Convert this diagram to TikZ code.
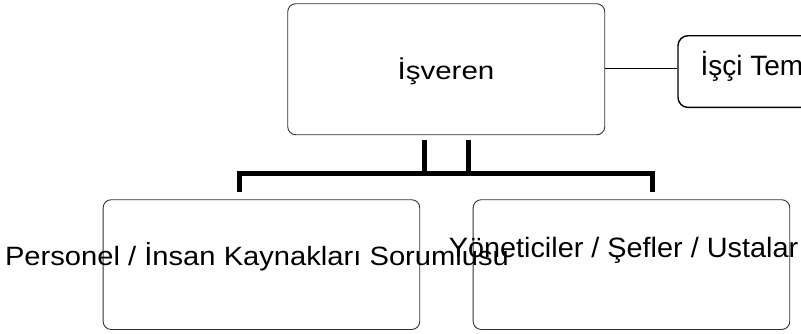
\documentclass[tikz,border=0pt]{standalone}
\usepackage{fontspec}
\setmainfont{Liberation Sans}
\begin{document}
\begin{tikzpicture}[x=1pt,y=-1pt,
  boxstyle/.style={draw=black!80, line width=0.9pt, rounded corners=8pt, inner sep=0pt, anchor=north west},
  repbox/.style={draw=black, line width=1.4pt, rounded corners=10pt, inner sep=0pt, anchor=north west},
  labeltext/.style={inner sep=0pt, anchor=base},
  thin link/.style={draw=black, line width=0.9pt},
  thick link/.style={draw=black, line width=5pt},
]
\useasboundingbox (0,0) rectangle (801,333);
\begin{scope}
\clip (0,0) rectangle (801,333);
% boxes
\node[boxstyle, minimum width=317pt, minimum height=131pt] (top) at (287.3,3.3) {};
\node[repbox, minimum width=200pt, minimum height=71.7pt] (rep) at (677.3,35) {};
\node[boxstyle, minimum width=316.6pt, minimum height=129.7pt] (left) at (102.7,199.3) {};
\node[boxstyle, minimum width=316.6pt, minimum height=129.7pt] (right) at (472.7,199.3) {};
% texts
\node[labeltext, font=\fontsize{25}{30}\selectfont] (toptext) at (446,79) {\scalebox{1.18}[1]{İşveren}};
\node[labeltext, anchor=base west, font=\fontsize{28}{32}\selectfont] (reptext) at (700.4,75) {İşçi Temsilcisi};
\node[labeltext, font=\fontsize{26.5}{32}\selectfont] (lefttext) at (257,265.7) {\scalebox{1.1}[1]{Personel / İnsan Kaynakları Sorumlusu}};
\node[labeltext, font=\fontsize{28}{32}\selectfont] (righttext) at (623.5,257.7) {\scalebox{1.03}[1]{Yöneticiler / Şefler / Ustalar}};
% connectors
\coordinate (t1) at (424.5,140);
\coordinate (t2) at (468,140);
\coordinate (l1) at (239.5,192);
\coordinate (r1) at (652.5,192);
\draw[thin link] (top.east |- 0,68.3) -- (rep.west |- 0,68.3);
\draw[thick link] (t2) -- (t2 |- 0,173.5) -| (l1);
\draw[thick link] (t1) -- (t1 |- 0,173.5) -| (r1);
\end{scope}
\end{tikzpicture}
\end{document}
